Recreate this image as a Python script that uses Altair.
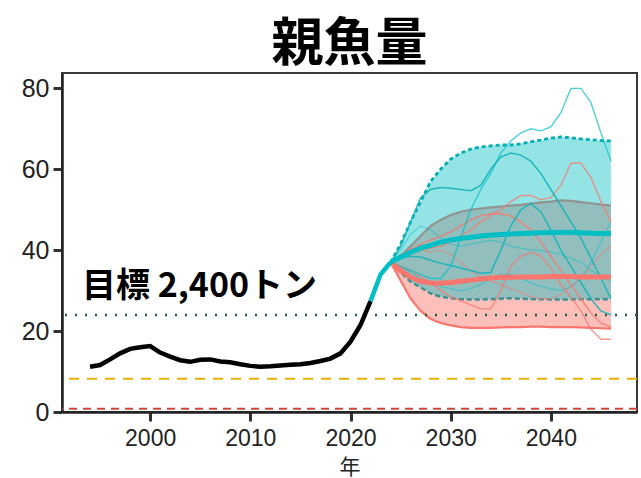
import altair as alt
import pandas as pd

# Spawning stock biomass (units of 100 t)
hist_years = list(range(1994, 2023))
hist_ssb = [11.2, 11.6, 13.0, 14.5, 15.6, 16.0, 16.3, 14.7, 13.7, 12.8,
            12.4, 12.9, 13.0, 12.5, 12.3, 11.8, 11.4, 11.2, 11.3, 11.5,
            11.7, 11.8, 12.1, 12.6, 13.2, 14.5, 17.4, 21.5, 27.4]

bridge_years = [2022, 2023, 2024]
bridge_ssb = [27.4, 34.0, 37.0]

proj_years = list(range(2024, 2047))
# scenario A (cyan): median and 90% interval
a_median = [37.0, 38.3, 39.5, 40.5, 41.2, 42.0, 42.5, 42.9, 43.2, 43.5, 43.7, 43.9,
            44.0, 44.1, 44.2, 44.3, 44.4, 44.4, 44.4, 44.3, 44.2, 44.1, 44.1]
a_upper = [37.0, 41.5, 47.0, 52.0, 57.0, 60.0, 62.5, 64.0, 65.0, 65.5, 65.8, 66.0,
           66.0, 66.3, 66.8, 67.2, 67.7, 68.0, 67.8, 67.5, 67.3, 67.1, 67.0]
a_lower = [37.0, 34.5, 32.2, 30.8, 29.3, 28.5, 28.1, 27.9, 27.8, 27.8, 27.9, 28.0,
           28.1, 28.0, 27.9, 27.9, 27.8, 27.8, 27.8, 27.9, 27.9, 27.9, 27.9]
# scenario B (salmon): median and 90% interval
b_median = [37.0, 35.0, 33.3, 32.3, 31.9, 31.8, 32.0, 32.3, 32.6, 32.9, 33.1, 33.3,
            33.3, 33.4, 33.4, 33.4, 33.5, 33.5, 33.5, 33.4, 33.4, 33.4, 33.4]
b_upper = [37.0, 38.5, 41.0, 43.5, 46.0, 47.5, 48.7, 49.5, 50.0, 50.3, 50.6, 50.8,
           51.0, 51.2, 51.5, 51.8, 52.0, 52.3, 52.2, 51.9, 51.6, 51.3, 51.0]
b_lower = [37.0, 32.5, 28.0, 25.0, 23.0, 22.0, 21.4, 21.0, 20.8, 20.8, 20.8, 20.9,
           21.0, 21.0, 21.1, 21.1, 21.0, 21.0, 21.0, 20.9, 20.8, 20.7, 20.6]

# individual simulation runs
a_run1 = [37, 36, 35, 34, 33, 33, 36, 43, 50, 55, 59, 64, 67, 69, 70, 69.5, 70.5, 74, 80, 80, 76.5, 69, 62]
a_run2 = [37, 41, 47, 53, 55, 55.5, 55.3, 55, 54.7, 56, 60, 63, 64, 63.5, 62, 59, 55, 51, 47, 43, 38, 33, 28]
a_run3 = [37, 38, 38.5, 38.3, 37.5, 36.8, 36.2, 35.6, 35, 34.3, 34.5, 40, 46, 50, 51.5, 49.5, 45, 40, 36, 32, 28, 25, 24]
a_run4 = [37, 40, 44, 46, 45, 43, 41.5, 41, 41.5, 42, 42.5, 42, 41, 40.5, 40, 40, 39.5, 39, 38, 37, 35, 33.5, 32.5]
a_run5 = [37, 36, 34.5, 33, 32, 31, 30.5, 30, 30.5, 31.5, 33, 34, 34, 33, 32, 31, 30.5, 30, 31, 33, 37, 42, 47]
b_run1 = [37, 38, 39, 40, 40.5, 41, 42, 43.5, 45, 47, 48.6, 50, 52, 53.5, 53.5, 52.5, 53, 56, 61.5, 61.5, 58, 52, 47]
b_run2 = [37, 38.5, 40, 41.5, 42.5, 43.5, 44.5, 46, 47.5, 48.5, 49, 49, 48.5, 47, 45, 42, 38.5, 35, 31.5, 28, 24.5, 22, 21]
b_run3 = [37, 36, 35, 33.5, 32, 30, 28.5, 27.5, 26.5, 25.5, 25.5, 30, 36, 38.5, 39.5, 38.5, 35.5, 31.5, 28.5, 25, 20.5, 18, 18]
b_run4 = [37, 39, 40.5, 40, 39.5, 40, 39, 37, 35, 33.5, 32.5, 31.5, 30.5, 29.5, 28.5, 28, 28, 29, 31, 33, 36, 39, 41]

# reference points
target_ssb = 24.0
limit_ssb = 8.2
ban_ssb = 0.8

CYAN = "#00BFC4"
SALMON = "#F8766D"

xscale = alt.Scale(domain=[1991.2, 2048.6], nice=False, zero=False)
yscale = alt.Scale(domain=[0, 83.8], nice=False, zero=False)
xaxis = alt.Axis(values=[2000, 2010, 2020, 2030, 2040], format="d", title="年",
                 labelFontSize=23, labelPadding=6, titlePadding=6, titleFontSize=21)
yaxis = alt.Axis(values=[0, 20, 40, 60, 80], title=None)


def X():
    return alt.X("year:Q", scale=xscale, axis=xaxis)


def Y(field):
    return alt.Y(f"{field}:Q", scale=yscale, axis=yaxis)


def series(years, values):
    return pd.DataFrame({"year": years, "value": values})


def line(years, values, color, width, opacity=1.0, dash=None):
    kw = dict(color=color, strokeWidth=width, opacity=opacity, clip=True)
    if dash:
        kw["strokeDash"] = dash
    return alt.Chart(series(years, values)).mark_line(**kw).encode(x=X(), y=Y("value"))


bands = pd.DataFrame({"year": proj_years, "a_lo": a_lower, "a_hi": a_upper,
                      "b_lo": b_lower, "b_hi": b_upper})

b_band = alt.Chart(bands).mark_area(color=SALMON, opacity=0.47).encode(
    x=X(), y=Y("b_lo"), y2="b_hi")
a_band = alt.Chart(bands).mark_area(color=CYAN, opacity=0.42).encode(
    x=X(), y=Y("a_lo"), y2="a_hi")


def hline(value, color, dash, width):
    return alt.Chart().mark_rule(color=color, strokeDash=dash, strokeWidth=width).encode(
        y=alt.datum(value, scale=yscale))


label = alt.Chart().mark_text(
    text="目標 2,400トン", font="Noto Sans CJK JP", fontWeight="bold", fontSize=34,
    align="left", baseline="middle", color="black"
).encode(x=alt.datum(1993.2), y=alt.datum(31.0))

layers = [
    b_band,
    line(proj_years, b_upper, SALMON, 2.2),
    line(proj_years, b_lower, SALMON, 2.2),
    a_band,
    line(proj_years, a_upper, "#00AEB3", 2.8, dash=[4, 3]),
    line(proj_years, a_lower, "#3E8F90", 2.5, dash=[5, 3]),
    hline(target_ssb, "#1F5F4A", [2, 8], 2.5),
    hline(limit_ssb, "#E8B000", [10, 8], 2),
    hline(ban_ssb, "#D0453A", [8, 6], 2),
    line(proj_years, a_run4, CYAN, 1.3, 0.45),
    line(proj_years, a_run5, CYAN, 1.3, 0.45),
    line(proj_years, b_run4, SALMON, 1.3, 0.5),
    line(proj_years, b_run1, SALMON, 1.4, 0.75),
    line(proj_years, b_run2, SALMON, 1.4, 0.85),
    line(proj_years, b_run3, SALMON, 1.4, 0.75),
    line(proj_years, a_run1, CYAN, 1.4, 0.7),
    line(proj_years, a_run2, "#13B3B7", 1.5, 0.9),
    line(proj_years, a_run3, "#13B3B7", 1.5, 0.9),
    line(proj_years, b_median, SALMON, 5),
    line(proj_years, a_median, CYAN, 5),
    line(hist_years, hist_ssb, "black", 4.5),
    line(bridge_years, bridge_ssb, CYAN, 4.5),
    label,
]

chart = alt.layer(*layers).properties(
    width=575,
    height=339,
    title=alt.TitleParams("親魚量", font="Noto Sans CJK JP", fontWeight="bold",
                          fontSize=52, color="black", anchor="middle", offset=1),
    padding={"left": 62, "top": 73, "right": 4, "bottom": 66},
    autosize=alt.AutoSizeParams(type="none"),
).configure_view(
    stroke="#3a3a3a", strokeWidth=2
).configure_axis(
    grid=False,
    domainColor="#222222", domainWidth=2.5,
    tickColor="#333333", tickWidth=3, tickSize=9,
    labelFont="Liberation Sans", labelFontSize=25, labelColor="#222222", labelPadding=4,
    titleFont="Noto Sans CJK JP", titleFontSize=22, titleFontWeight="normal",
    titleColor="#222222",
)

chart.save("out.html", embed_options={"renderer": "svg", "actions": False})
